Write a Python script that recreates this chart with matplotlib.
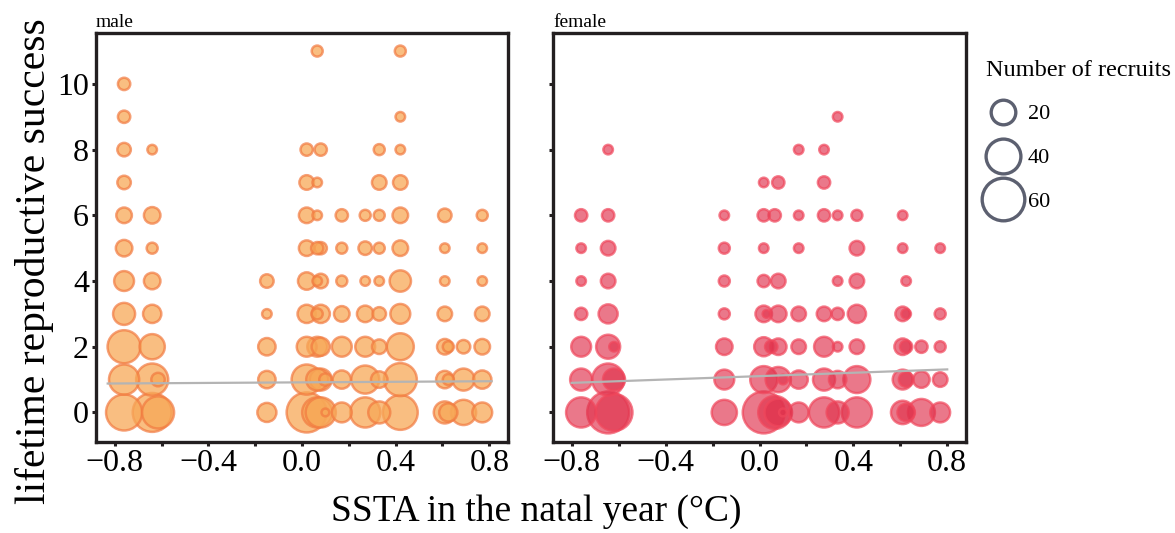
import matplotlib
matplotlib.use("Agg")
import matplotlib.pyplot as plt
from matplotlib.lines import Line2D
import numpy as np

plt.rcParams['font.family'] = ['Liberation Serif', 'DejaVu Serif']

# rows of lifetime reproductive success, with SSTA of natal year and recruit counts
male_lrs = [11, 10, 9, 8, 7, 6, 5, 4, 3, 2, 1, 0]
male_ssta = [
    [0.065, 0.42],
    [-0.76],
    [-0.76, 0.42],
    [-0.76, -0.64, 0.02, 0.08, 0.33, 0.42],
    [-0.76, 0.02, 0.065, 0.33, 0.42],
    [-0.76, -0.64, 0.02, 0.065, 0.17, 0.27, 0.33, 0.42, 0.61, 0.77],
    [-0.76, -0.64, 0.02, 0.065, 0.08, 0.17, 0.27, 0.33, 0.42, 0.61, 0.77],
    [-0.76, -0.64, -0.15, 0.02, 0.065, 0.08, 0.17, 0.27, 0.33, 0.42, 0.61, 0.77],
    [-0.76, -0.64, -0.15, 0.02, 0.065, 0.08, 0.17, 0.27, 0.33, 0.42, 0.61, 0.77],
    [-0.76, -0.64, -0.15, 0.02, 0.065, 0.08, 0.17, 0.27, 0.33, 0.42, 0.61, 0.625, 0.69, 0.77],
    [-0.76, -0.64, -0.615, -0.15, 0.02, 0.065, 0.08, 0.10, 0.17, 0.27, 0.33, 0.42, 0.61, 0.625, 0.69, 0.77],
    [-0.76, -0.64, -0.615, -0.15, 0.02, 0.065, 0.08, 0.10, 0.17, 0.27, 0.33, 0.42, 0.61, 0.625, 0.69, 0.77],
]
male_recruits = [
    [4, 4],
    [5],
    [5, 3],
    [6, 3, 5, 5, 4, 3],
    [6, 7, 3, 7, 7],
    [8, 9, 8, 3, 5, 4, 4, 8, 6, 4],
    [9, 4, 8, 5, 5, 4, 6, 4, 8, 3, 3],
    [13, 9, 6, 10, 3, 7, 4, 3, 3, 15, 3, 3],
    [16, 11, 3, 11, 4, 11, 8, 9, 6, 13, 7, 7],
    [36, 21, 10, 13, 13, 11, 13, 13, 7, 24, 8, 4, 6, 8],
    [30, 34, 6, 10, 30, 16, 16, 5, 11, 26, 9, 36, 10, 4, 16, 11],
    [43, 50, 34, 12, 53, 30, 30, 2, 13, 30, 16, 40, 16, 11, 21, 13],
]

female_lrs = [9, 8, 7, 6, 5, 4, 3, 2, 1, 0]
female_ssta = [
    [0.333],
    [-0.645, 0.167, 0.275],
    [0.018, 0.08, 0.275],
    [-0.76, -0.645, -0.15, 0.018, 0.065, 0.167, 0.275, 0.333, 0.415, 0.61],
    [-0.76, -0.645, -0.15, 0.018, 0.167, 0.415, 0.61, 0.77],
    [-0.76, -0.645, -0.15, 0.018, 0.08, 0.333, 0.415, 0.625],
    [-0.76, -0.645, -0.15, 0.018, 0.03, 0.08, 0.167, 0.275, 0.333, 0.415, 0.61, 0.625, 0.77],
    [-0.76, -0.645, -0.62, -0.15, 0.018, 0.05, 0.08, 0.167, 0.275, 0.333, 0.415, 0.61, 0.625, 0.69, 0.77],
    [-0.76, -0.645, -0.62, -0.15, 0.018, 0.08, 0.10, 0.167, 0.275, 0.333, 0.415, 0.61, 0.625, 0.69, 0.77],
    [-0.76, -0.645, -0.62, -0.15, 0.018, 0.065, 0.08, 0.10, 0.167, 0.275, 0.333, 0.415, 0.61, 0.625, 0.69, 0.77],
]
female_recruits = [
    [3],
    [3, 3, 3],
    [3, 5, 5],
    [5, 5, 3, 5, 5, 3, 5, 3, 4, 3],
    [3, 7, 4, 3, 3, 7, 3, 3],
    [3, 7, 4, 5, 7, 3, 7, 3],
    [5, 12, 4, 9, 2, 9, 7, 7, 5, 11, 7, 3, 4],
    [13, 19, 3, 9, 12, 5, 9, 7, 13, 3, 7, 9, 5, 5, 4],
    [16, 34, 16, 13, 24, 21, 3, 11, 16, 10, 24, 13, 7, 9, 7],
    [30, 58, 45, 21, 58, 36, 25, 2, 13, 30, 16, 30, 18, 10, 24, 13],
]

# fitted lines (end points)
male_fit_x = [-0.83, 0.81]
male_fit_y = [0.88, 0.95]
female_fit_x = [-0.80, 0.80]
female_fit_y = [0.90, 1.31]

legend_sizes = [20, 40, 60]
xticks = [-0.8, -0.6, -0.4, -0.2, 0.0, 0.2, 0.4, 0.6, 0.8]
xticklabels = ['\u22120.8', '', '\u22120.4', '', '0.0', '', '0.4', '', '0.8']
yticks = [0, 2, 4, 6, 8, 10]

SIZE_SCALE = 15.7  # points^2 per recruit


def flatten(lrs, ssta, recruits):
    xs, ys, ns = [], [], []
    for y, row_x, row_n in zip(lrs, ssta, recruits):
        for x, n in zip(row_x, row_n):
            xs.append(x)
            ys.append(y)
            ns.append(n)
    return np.array(xs), np.array(ys), np.array(ns)


fig = plt.figure(figsize=(11.75, 5.33), dpi=100)
ax1 = fig.add_axes([96/1175, 91/533, 412/1175, 409/533])
ax2 = fig.add_axes([553/1175, 91/533, 413/1175, 409/533])

panels = [
    (ax1, male_lrs, male_ssta, male_recruits, male_fit_x, male_fit_y,
     (0.97, 0.66, 0.34, 0.75), (0.95, 0.48, 0.25, 0.7), 'male'),
    (ax2, female_lrs, female_ssta, female_recruits, female_fit_x, female_fit_y,
     (0.88, 0.20, 0.30, 0.66), (0.94, 0.28, 0.36, 0.7), 'female'),
]

for ax, lrs, ssta, rec, fx, fy, face, edge, title in panels:
    xs, ys, ns = flatten(lrs, ssta, rec)
    order = np.argsort(-ns)
    ax.scatter(xs[order], ys[order], s=ns[order]*SIZE_SCALE, facecolors=[face],
               edgecolors=[edge], linewidths=1.8, zorder=2)
    ax.plot(fx, fy, color='#b4b4b4', lw=1.6, zorder=3)
    ax.set_xlim(-0.88, 0.88)
    ax.set_ylim(-0.9, 11.55)
    ax.set_xticks(xticks)
    ax.set_xticklabels(xticklabels)
    ax.set_yticks(yticks)
    for sp in ax.spines.values():
        sp.set_linewidth(2.4)
        sp.set_color('#231f20')
    ax.tick_params(axis='both', direction='out', length=3, width=2.2,
                   color='#231f20', labelsize=23, pad=2)
    ax.text(0.0, 1.005, title, transform=ax.transAxes, fontsize=14,
            ha='left', va='bottom')

ax2.tick_params(axis='y', labelleft=False)

fig.text(35/1175, 1 - 261/533, 'lifetime reproductive success', rotation=90,
         ha='center', va='center', fontsize=30)
fig.text(536/1175, 1 - 512/533, 'SSTA in the natal year (\u00b0C)',
         ha='center', va='center', fontsize=27)

handles = [Line2D([], [], ls='none', marker='o', markerfacecolor='none',
                  markeredgecolor='#5c6070', markeredgewidth=2.4,
                  markersize=np.sqrt(n*SIZE_SCALE)) for n in legend_sizes]
leg = fig.legend(handles, [str(n) for n in legend_sizes], title='Number of recruits',
                 loc='upper left', bbox_to_anchor=(970/1175, 1 - 44/533),
                 frameon=False, fontsize=16, title_fontsize=17.5,
                 labelspacing=1.05, handletextpad=0.3, borderpad=0.2,
                 handlelength=1.6)
leg._legend_box.align = 'left'

fig.savefig('out.png', dpi=100)
